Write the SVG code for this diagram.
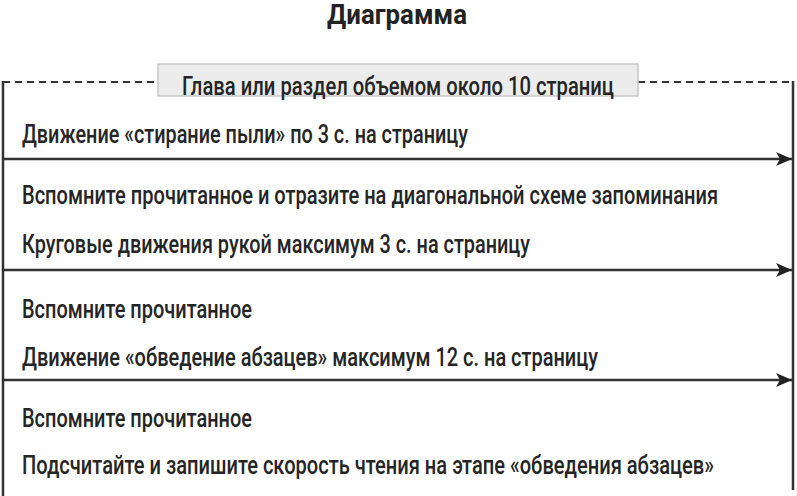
<svg xmlns="http://www.w3.org/2000/svg" width="797" height="496" viewBox="0 0 797 496">
<defs>
<style>
.t{font-family:Roboto,"Liberation Sans",sans-serif;font-size:26px;font-weight:500;fill:#252525;}
.title{font-family:Roboto,"Liberation Sans",sans-serif;font-size:27px;font-weight:bold;fill:#222;}
.frame{stroke:#333;stroke-width:2.5;fill:none;}
.dash{stroke:#333;stroke-width:2;stroke-dasharray:7,5;fill:none;}
.arr{stroke:#333;stroke-width:2.5;fill:none;}
</style>
<marker id="ah" viewBox="0 0 16 14" refX="16" refY="7" markerWidth="16" markerHeight="14" markerUnits="userSpaceOnUse" orient="auto">
<path d="M0,0 L16,7 L0,14 L4,7 Z" fill="#222"/>
</marker>
</defs>
<rect width="797" height="496" fill="#fff"/>
<g id="title"><text class="title" transform="translate(327,24) scale(0.85,1)" textLength="164.7" lengthAdjust="spacingAndGlyphs">Диаграмма</text></g>
<g id="frame">
<path class="dash" d="M3,82 H158 M638,82 H793"/>
<path class="frame" d="M3,81 V496 M793,81 V490"/>
<rect x="158" y="64" width="480" height="32" fill="#ececec" stroke="#c8c8c8" stroke-width="1.5"/>
<text class="t" transform="translate(182,95) scale(0.8,1)" textLength="540" lengthAdjust="spacingAndGlyphs">Глава или раздел объемом около 10 страниц</text>
</g>
<g id="connectors">
<line class="arr" x1="3" y1="159" x2="792" y2="159" marker-end="url(#ah)"/>
<line class="arr" x1="3" y1="270" x2="792" y2="270" marker-end="url(#ah)"/>
<line class="arr" x1="3" y1="380" x2="792" y2="380" marker-end="url(#ah)"/>
</g>
<g id="step1"><text class="t" transform="translate(22,143) scale(0.8,1)" textLength="557.5" lengthAdjust="spacingAndGlyphs">Движение «стирание пыли» по 3 с. на страницу</text></g>
<g id="step2">
<text class="t" transform="translate(22,204) scale(0.8,1)" textLength="870" lengthAdjust="spacingAndGlyphs">Вспомните прочитанное и отразите на диагональной схеме запоминания</text>
<text class="t" transform="translate(22,253) scale(0.8,1)" textLength="635" lengthAdjust="spacingAndGlyphs">Круговые движения рукой максимум 3 с. на страницу</text>
</g>
<g id="step3">
<text class="t" transform="translate(22,318) scale(0.8,1)" textLength="287.5" lengthAdjust="spacingAndGlyphs">Вспомните прочитанное</text>
<text class="t" transform="translate(22,366) scale(0.8,1)" textLength="720" lengthAdjust="spacingAndGlyphs">Движение «обведение абзацев» максимум 12 с. на страницу</text>
</g>
<g id="step4">
<text class="t" transform="translate(22,427) scale(0.8,1)" textLength="287.5" lengthAdjust="spacingAndGlyphs">Вспомните прочитанное</text>
<text class="t" transform="translate(22,474) scale(0.8,1)" textLength="865" lengthAdjust="spacingAndGlyphs">Подсчитайте и запишите скорость чтения на этапе «обведения абзацев»</text>
</g>
</svg>
